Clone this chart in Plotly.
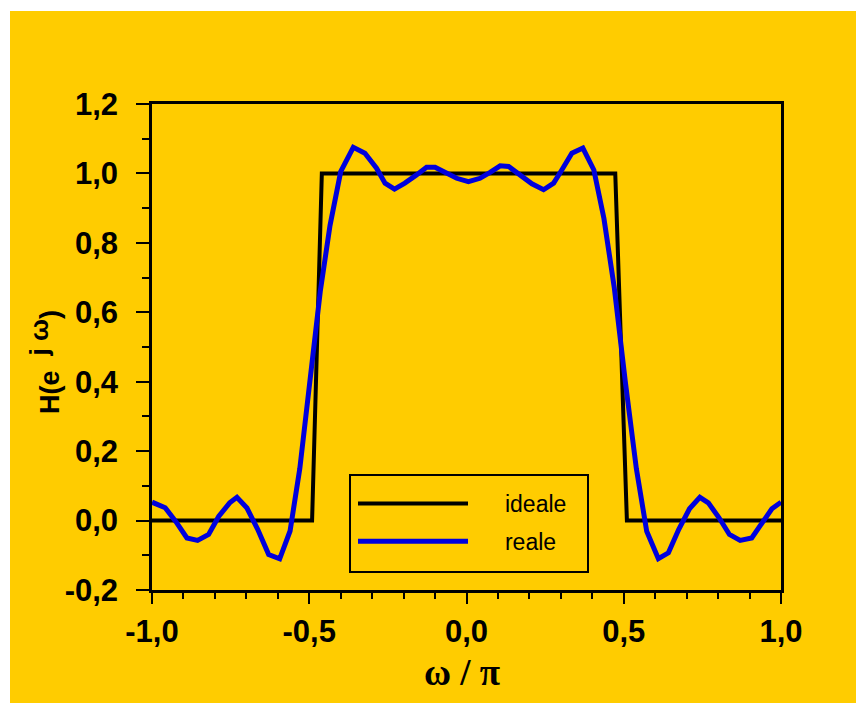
import plotly.graph_objects as go

# ---- data ----
ideal_x = [-1.0, -0.491, -0.460, 0.473, 0.510, 1.0]
ideal_y = [0.0, 0.0, 1.0, 1.0, 0.0, 0.0]

real_x = [-1.0, -0.958, -0.924, -0.889, -0.855, -0.820, -0.788, -0.753, -0.730, -0.698,
          -0.664, -0.629, -0.594, -0.561, -0.530, -0.497, -0.465, -0.434, -0.400, -0.360,
          -0.323, -0.286, -0.259, -0.229, -0.196, -0.160, -0.127, -0.100, -0.065, -0.031,
          0.006, 0.043, 0.075, 0.107, 0.134, 0.172, 0.208, 0.245, 0.277, 0.303,
          0.335, 0.370, 0.405, 0.437, 0.470, 0.505, 0.540, 0.573, 0.610, 0.642,
          0.675, 0.709, 0.742, 0.769, 0.803, 0.836, 0.870, 0.907, 0.940, 0.971, 1.0]
real_y = [0.053, 0.037, -0.003, -0.050, -0.057, -0.040, 0.012, 0.051, 0.067, 0.036,
          -0.025, -0.098, -0.110, -0.030, 0.150, 0.400, 0.660, 0.850, 1.005, 1.075,
          1.058, 1.015, 0.972, 0.955, 0.972, 0.995, 1.018, 1.018, 1.001, 0.986,
          0.976, 0.986, 1.003, 1.022, 1.020, 0.995, 0.970, 0.953, 0.972, 1.010,
          1.058, 1.073, 1.010, 0.870, 0.670, 0.400, 0.150, -0.031, -0.110, -0.093,
          -0.025, 0.034, 0.067, 0.051, 0.008, -0.040, -0.057, -0.050, -0.006, 0.034, 0.053]

x_tick_vals = [-1.0, -0.5, 0.0, 0.5, 1.0]
x_tick_text = ["-1,0", "-0,5", "0,0", "0,5", "1,0"]
y_tick_vals = [-0.2, 0.0, 0.2, 0.4, 0.6, 0.8, 1.0, 1.2]
y_tick_text = ["-0,2", "0,0", "0,2", "0,4", "0,6", "0,8", "1,0", "1,2"]

series_names = ["ideale", "reale"]

YELLOW = "#FFCC00"
BLUE = "#0000DD"
PAD = "\u00a0" * 5  # gap between legend line sample and its label

# page has an 8px body margin, so the figure is 16px smaller than the window
OFF = 8
W, H = 850, 697
L, R, T, B = 144, 77, 96, 115
pw, ph = W - L - R, H - T - B


def px2x(px):  # reference-screenshot pixel -> paper coordinate
    return (px - OFF - L) / pw


def py2y(py):
    return (H - B - (py - OFF)) / ph


fig = go.Figure()
fig.add_trace(go.Scatter(x=ideal_x, y=ideal_y, mode="lines", name=PAD + series_names[0],
                         legendgroup="a",
                         line=dict(color="black", width=4)))
fig.add_trace(go.Scatter(x=real_x, y=real_y, mode="lines", name=PAD + series_names[1],
                         legendgroup="b",
                         line=dict(color=BLUE, width=5)))

# yellow panel with white border
fig.add_shape(type="rect", xref="paper", yref="paper",
              x0=px2x(10), x1=px2x(856), y0=py2y(703), y1=py2y(11),
              fillcolor=YELLOW, line=dict(width=0), layer="below")
# legend frame
fig.add_shape(type="rect", xref="paper", yref="paper",
              x0=px2x(350), x1=px2x(588), y0=py2y(572), y1=py2y(475),
              fillcolor="rgba(0,0,0,0)", line=dict(width=2, color="black"), layer="above")

tickfont = dict(family="Liberation Sans, Arial, sans-serif", size=31, color="black", weight="bold")

fig.update_layout(
    width=W, height=H,
    margin=dict(l=L, r=R, t=T, b=B, pad=0),
    paper_bgcolor="white",
    plot_bgcolor="rgba(0,0,0,0)",
    showlegend=True,
    legend=dict(
        x=px2x(353), y=py2y(482), xanchor="left", yanchor="top",
        bgcolor="rgba(0,0,0,0)", borderwidth=0,
        font=dict(family="Liberation Sans, Arial, sans-serif", size=23, color="black"),
        itemwidth=110, tracegroupgap=5, traceorder="grouped",
    ),
    xaxis=dict(
        range=[-1.0, 1.0], showgrid=False, zeroline=False,
        showline=True, linecolor="black", linewidth=2.5, mirror=True,
        ticks="outside", ticklen=11, tickwidth=2, tickcolor="black",
        tickvals=x_tick_vals, ticktext=x_tick_text, tickfont=tickfont,
        ticklabelstandoff=1,
        minor=dict(dtick=0.1, tick0=0, ticks="outside", ticklen=6, tickwidth=2, tickcolor="black"),
    ),
    yaxis=dict(
        range=[-0.2, 1.2], showgrid=False, zeroline=False,
        showline=True, linecolor="black", linewidth=2.5, mirror=True,
        ticks="outside", ticklen=13, tickwidth=2, tickcolor="black",
        tickvals=y_tick_vals, ticktext=y_tick_text, tickfont=tickfont,
        ticklabelstandoff=12,
        minor=dict(dtick=0.1, tick0=0, ticks="outside", ticklen=7, tickwidth=2, tickcolor="black"),
    ),
)

fig.add_annotation(
    xref="paper", yref="paper", x=px2x(462), y=py2y(672),
    text="ω / π", showarrow=False, xanchor="center", yanchor="middle",
    font=dict(family="Liberation Serif, Times New Roman, serif", size=37, color="black", weight="bold"),
)
fig.add_annotation(
    xref="paper", yref="paper", x=px2x(44), y=py2y(362),
    text="H(e\u00a0\u00a0<sup><span style=\"font-size:26px\">j\u00a0ω</span></sup>)",
    textangle=-90, showarrow=False,
    xanchor="center", yanchor="middle",
    font=dict(family="Liberation Sans, Arial, sans-serif", size=27, color="black", weight="bold"),
)

fig.write_html("out.html")
